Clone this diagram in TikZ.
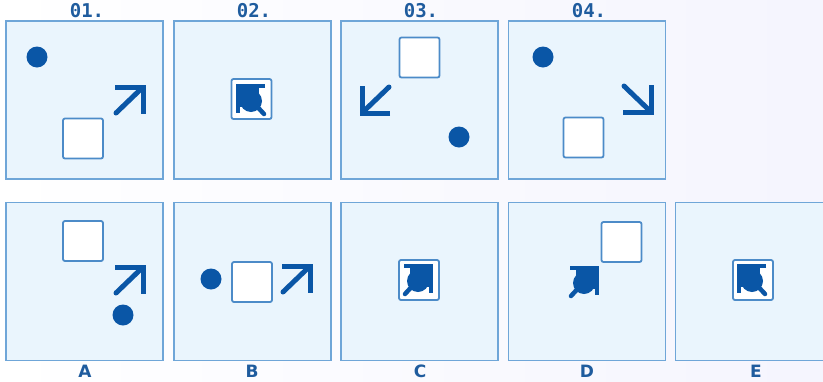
\documentclass[tikz,border=0pt]{standalone}
\usepackage{fontspec}
\newfontfamily\labmono{DejaVu Sans Mono}
\newfontfamily\labsans{DejaVu Sans}
\definecolor{dkblue}{HTML}{0A56A6}
\definecolor{panelfill}{HTML}{EAF5FD}
\definecolor{panelline}{HTML}{6FA6D8}
\definecolor{sqline}{HTML}{4C8BC8}
\definecolor{labcol}{HTML}{1F5C9E}
\begin{document}
\begin{tikzpicture}[x=1pt,y=-1pt,
  panel/.style={draw=panelline,fill=panelfill,line width=1.3pt,minimum width=157pt,minimum height=158pt,inner sep=0pt},
  sq/.style={draw=sqline,fill=white,line width=1.8pt,rounded corners=2pt,minimum size=40pt,inner sep=0pt},
  dot/.style={circle,fill=dkblue,minimum size=21pt,inner sep=0pt},
  toplab/.style={text=labcol,font=\labmono\bfseries\fontsize{19}{19}\selectfont},
  botlab/.style={text=labcol,font=\labsans\bfseries\fontsize{17}{17}\selectfont},
  arr/.pic={\draw[dkblue,line width=5pt,line join=miter,line cap=butt] (-28,0) -- (0,0) -- (0,27);
            \draw[dkblue,line width=5pt,line cap=round] (-1,1) -- (-27,26);},
  blob/.pic={\fill[dkblue] (1.5,-1.5) rectangle (-21,21);
             \fill[dkblue] (-13,15) circle (11);
             \draw[dkblue,line width=4.5pt,line join=miter,line cap=butt] (-27,0) -- (0,0) -- (0,27);
             \draw[dkblue,line width=4.5pt,line cap=round] (-1,1) -- (-26,28);}
]
\useasboundingbox (0,0) rectangle (823,381);
\shade[left color=white,right color=black!10!blue!4!white] (0,0) rectangle (823,381);

% top row
\node[panel] (p1) at (84.5,100) {};
\node[panel] (p2) at (252.5,100) {};
\node[panel] (p3) at (419.5,100) {};
\node[panel] (p4) at (587,100) {};
\node[toplab] (l1) at (87,11) {01.};
\node[toplab] (l2) at (254,11) {02.};
\node[toplab] (l3) at (421,11) {03.};
\node[toplab] (l4) at (589,11) {04.};

% 01
\node[dot] (c1) at (37,57) {};
\node[sq] (s1) at (83,138.5) {};
\pic at (143,87) {arr};
% 02
\node[sq] (s2) at (251.5,99) {};
\pic[xscale=-1] at (238,86) {blob};
% 03
\node[sq] (s3) at (419.5,57.5) {};
\pic[xscale=-1,yscale=-1] at (362,113) {arr};
\node[dot] (c3) at (459,137) {};
% 04
\node[dot] (c4) at (543,57) {};
\pic[yscale=-1] at (651,112) {arr};
\node[sq] (s4) at (583.5,137.5) {};

% bottom row
\node[panel] (pa) at (84.5,281.5) {};
\node[panel] (pb) at (252.5,281.5) {};
\node[panel] (pc) at (419.5,281.5) {};
\node[panel] (pd) at (587,281.5) {};
\node[panel] (pe) at (754,281.5) {};
\node[botlab] (la) at (85,371) {A};
\node[botlab] (lb) at (252,371) {B};
\node[botlab] (lc) at (420,371) {C};
\node[botlab] (ld) at (587,371) {D};
\node[botlab] (le) at (756,371) {E};

% A
\node[sq] (sa) at (83,241) {};
\pic at (143,267) {arr};
\node[dot] (ca) at (123,315) {};
% B
\node[dot] (cb) at (211,279) {};
\node[sq] (sb) at (252,282) {};
\pic at (310,266) {arr};
% C
\node[sq] (sc) at (419,280) {};
\pic at (431,266) {blob};
% D
\node[sq] (sd) at (621.5,242) {};
\pic at (597,268) {blob};
% E
\node[sq] (se) at (753,280) {};
\pic[xscale=-1] at (739,266) {blob};
\end{tikzpicture}
\end{document}
